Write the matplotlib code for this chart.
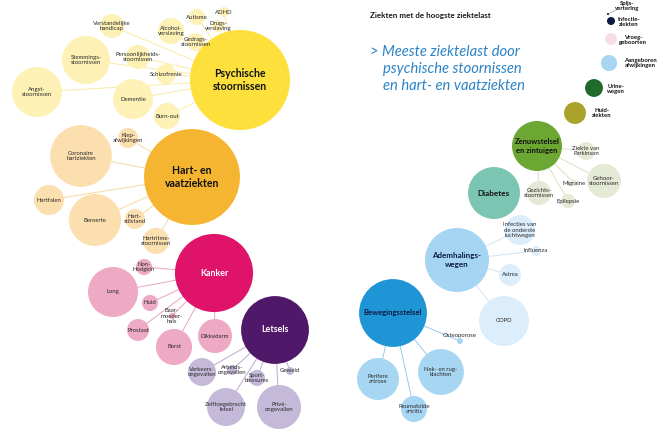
import matplotlib
matplotlib.use("Agg")
import matplotlib.pyplot as plt
from matplotlib.patches import Circle
import numpy as np

plt.rcParams['font.family'] = ['Lato', 'DejaVu Sans']

# ---------------- data ----------------
title = "Ziekten met de hoogste ziektelast"
subtitle = ["> Meeste ziektelast door", "psychische stoornissen", "en hart- en vaatziekten"]

group_labels = ["Psychische\nstoornissen", "Hart- en\nvaatziekten", "Kanker", "Letsels",
                "Zenuwstelsel\nen zintuigen", "Diabetes", "Ademhalings-\nwegen", "Bewegingsstelsel",
                "Huid-\nziekten", "Urine-\nwegen", "Aangeboren\nafwijkingen", "Vroeg-\ngeboorten",
                "Infectie-\nziekten", "Spijs-\nvertering"]
group_values = [100, 92, 61, 46, 25, 27, 41, 46, 4.8, 3.2, 2.6, 1.4, 0.64, 0.04]

sub_labels = [
    # Psychische stoornissen
    "Angst-\nstoornissen", "Stemmings-\nstoornissen", "Verstandelijke\nhandicap", "Alcohol-\nverslaving",
    "Autisme", "ADHD", "Drugs-\nverslaving", "Gedrags-\nstoornissen", "Persoonlijkheids-\nstoornissen",
    "Schizofrenie", "Dementie", "Burn-out",
    # Hart- en vaatziekten
    "Coronaire\nhartziekten", "Klep-\nafwijkingen", "Hartfalen", "Beroerte", "Hart-\nstilstand",
    "Hartritme-\nstoornissen",
    # Kanker
    "Non-\nHodgkin", "Long", "Huid", "Baar-\nmoeder-\nhals", "Prostaat", "Borst", "Dikkedarm",
    # Letsels
    "Verkeers-\nongevallen", "Arbeids-\nongevallen", "Sport-\nblessures", "Geweld",
    "Zelftoegebracht\nletsel", "Privé-\nongevallen",
    # Zenuwstelsel en zintuigen
    "Ziekte van\nParkinson", "Gehoor-\nstoornissen", "Migraine", "Epilepsie", "Gezichts-\nstoornissen",
    # Ademhalingswegen
    "Infecties van\nde onderste\nluchtwegen", "Influenza", "Astma", "COPD",
    # Bewegingsstelsel
    "Osteoporose", "Nek- en rug-\nklachten", "Perifere\nartrose", "Reumatoïde\nartritis",
]
sub_values = [25, 23, 5.8, 6.8, 2.6, 1.0, 1.4, 3.2, 5.8, 4.0, 16, 6.8,
              38, 4.0, 9.0, 27, 4.0, 6.8,
              2.6, 25, 2.6, 0.36, 4.8, 13, 11.6,
              7.8, 1.0, 2.6, 0.64, 14.4, 19.4,
              3.2, 11.6, 0.36, 2.0, 5.8,
              9.0, 1.0, 4.8, 25,
              0.36, 21, 17.6, 6.8]
sub_parent = [0] * 12 + [1] * 6 + [2] * 7 + [3] * 6 + [4] * 5 + [6] * 4 + [7] * 4

# ---------------- layout (pixel space of the 663x440 canvas) ----------------
group_x = [240, 192, 214, 275, 537, 494, 457, 393, 575, 594, 609, 611, 611, 608]
group_y = [80, 177, 273, 330, 146, 193, 260, 313, 113, 88, 63, 39, 21, 14]
sub_x = [37, 86, 112, 171, 197, 224, 218, 196, 138, 166, 133, 167,
         81, 128, 49, 95, 135, 156,
         144, 113, 150, 172, 138, 174, 215,
         202, 232, 257, 290, 226, 279,
         586, 604, 574, 568, 539,
         520, 536, 510, 504,
         460, 441, 378, 414]
sub_y = [92, 60, 26, 31, 17, 12, 26, 42, 57, 74, 99, 116,
         156, 138, 200, 220, 219, 241,
         267, 292, 303, 316, 330, 347, 336,
         372, 370, 378, 371, 407, 407,
         151, 181, 183, 201, 193,
         230, 251, 275, 321,
         341, 372, 379, 409]

# ---------------- styles ----------------
main_colors = ['#FDE03B', '#F6B530', '#E0136B', '#4F1868', '#6CA633', '#7DC5B3', '#A6D5F3',
               '#1F95D6', '#A9A22B', '#1F6B2C', '#A8D6F2', '#F7DCEA', '#0B1A3F', '#0B1A3F']
main_text_colors = ['#111111', '#111111', 'white', 'white', '#111111', '#111111', '#0B1A3F',
                    '#0B1A3F', '#111111', '#111111', '#111111', '#111111', '#111111', '#111111']
main_fs = [7.6, 7.6, 6.4, 6.4, 5.5, 5.9, 5.8, 5.5, 4.3, 4.3, 4.3, 4.3, 4.3, 4.3]
sub_colors = {0: '#FDF1B6', 1: '#FCDFAE', 2: '#EEA9C5', 3: '#C5B9DA', 4: '#E5EAD6',
              6: '#DCEEFB', 7: '#A7D6F3'}
line_colors = {0: '#FAE9A6', 1: '#F9D7A0', 2: '#E8A3C0', 3: '#B7ABD1', 4: '#D9E0C6',
               6: '#CFE6F7', 7: '#93CBEE'}
scale = 5.0  # radius = scale * sqrt(value)

fig = plt.figure(figsize=(6.63, 4.40), dpi=100)
ax = fig.add_axes([0, 0, 1, 1])
ax.set_xlim(0, 663)
ax.set_ylim(440, 0)
ax.set_aspect('equal')
ax.axis('off')

# connector lines
for lab, v, p, x, y in zip(sub_labels, sub_values, sub_parent, sub_x, sub_y):
    ax.plot([group_x[p], x], [group_y[p], y], color=line_colors[p], lw=0.7, zorder=1)

# sub bubbles
for lab, v, p, x, y in zip(sub_labels, sub_values, sub_parent, sub_x, sub_y):
    r = scale * np.sqrt(v)
    ax.add_patch(Circle((x, y), r, facecolor=sub_colors[p], edgecolor='none', zorder=2))

# label offsets for small bubbles whose text sits beside them
sub_label_shift = {"Osteoporose": (0, -5)}
for lab, v, p, x, y in zip(sub_labels, sub_values, sub_parent, sub_x, sub_y):
    dx, dy = sub_label_shift.get(lab, (0, 0))
    ax.text(x + dx, y + dy, lab, ha='center', va='center', fontsize=4.3, color='#2a2a2a',
            linespacing=1.05, zorder=5)

# main bubbles
side_labels = {8: (602, 113), 9: (616, 89), 10: (640, 63), 11: (633, 40), 12: (629, 22), 13: (627, 6)}
for i, (lab, v, x, y) in enumerate(zip(group_labels, group_values, group_x, group_y)):
    r = scale * np.sqrt(v)
    ax.add_patch(Circle((x, y), r, facecolor=main_colors[i], edgecolor='none', zorder=3))
    if i in side_labels:
        tx, ty = side_labels[i]
        ax.text(tx, ty, lab, ha='center', va='center', fontsize=main_fs[i], fontweight='bold',
                color=main_text_colors[i], linespacing=1.05, zorder=6)
    else:
        ax.text(x, y, lab, ha='center', va='center', fontsize=main_fs[i], fontweight='bold',
                color=main_text_colors[i], linespacing=1.2, zorder=6)

# small connector for Spijsvertering label
ax.plot([group_x[13], group_x[13] + 8], [group_y[13], group_y[13] - 4], color='#9aa3b5', lw=0.5, zorder=2)

# titles
ax.text(370, 15, title, ha='left', va='center', fontsize=5.8, fontweight='bold', color='#1a1a1a')
ax.text(370, 52, subtitle[0], ha='left', va='center', fontsize=10.6, style='italic',
        color='#2B83C6')
ax.text(383, 69, subtitle[1], ha='left', va='center', fontsize=10.6, style='italic',
        color='#2B83C6')
ax.text(383, 86, subtitle[2], ha='left', va='center', fontsize=10.6, style='italic',
        color='#2B83C6')

fig.savefig("out.png", dpi=100, facecolor='white')
